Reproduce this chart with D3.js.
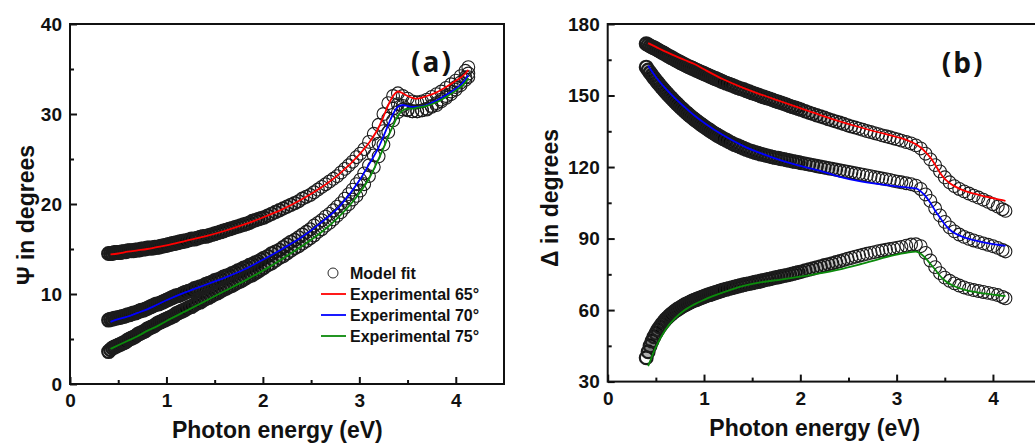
<!DOCTYPE html>
<html>
<head>
<meta charset="utf-8">
<script src="https://cdn.jsdelivr.net/npm/d3@7"></script>
<style>
  body { margin: 0; background: #fff; }
  svg { display: block; font-family: "Liberation Sans", Arial, sans-serif; font-weight: bold; }
  .axis text { font-size: 19px; fill: #111; }
  .axis line { stroke: #111; stroke-width: 2; }
  .axis .domain { display: none; }
</style>
</head>
<body>
<svg id="chart" width="1035" height="446"></svg>
<script>
// photon energy (eV) of the model-fit points, shared by every fit series
const energyFit = [
  0.40,0.42,0.44,0.46,0.48,0.50,0.52,0.54,0.56,0.58,0.60,0.62,0.64,0.66,0.68,0.70,0.72,0.74,0.76,0.78,
  0.80,0.82,0.84,0.86,0.88,0.90,0.92,0.94,0.96,0.98,1.00,1.02,1.04,1.06,1.08,1.10,1.12,1.14,1.16,1.18,1.20,
  1.23,1.26,1.29,1.32,1.35,1.38,1.41,1.44,1.47,1.50,1.53,1.56,1.59,1.62,1.65,1.68,1.71,1.74,1.77,1.80,
  1.83,1.86,1.89,1.92,1.95,1.98,2.01,
  2.05,2.09,2.13,2.17,2.21,2.25,2.29,2.33,2.37,2.41,2.45,2.49,2.53,2.57,2.61,2.65,2.69,2.73,2.77,2.81,
  2.85,2.89,2.93,2.97,3.01,
  3.05,3.10,3.15,3.20,3.25,3.30,3.35,3.40,3.45,3.50,3.55,3.60,3.65,3.70,3.75,3.80,3.85,3.90,3.95,4.00,
  4.05,4.10,4.13
];

// (a) Psi model fit
const psiFit65 = [
  14.5,14.5,14.5,14.6,14.6,14.6,14.6,14.7,14.7,14.7,14.8,14.8,14.8,14.8,14.9,14.9,14.9,15.0,15.0,15.0,
  15.1,15.1,15.1,15.1,15.2,15.2,15.2,15.3,15.3,15.4,15.4,15.5,15.5,15.6,15.6,15.7,15.7,15.8,15.8,15.9,15.9,
  16.0,16.1,16.1,16.2,16.3,16.4,16.4,16.5,16.6,16.7,16.8,16.9,17.0,17.1,17.2,17.3,17.4,17.5,17.6,17.7,
  17.8,17.9,18.1,18.2,18.3,18.4,18.5,
  18.7,18.9,19.1,19.3,19.5,19.7,19.9,20.1,20.3,20.6,20.8,21.0,21.3,21.6,21.9,22.2,22.5,22.8,23.1,23.5,
  23.9,24.3,24.7,25.2,25.6,
  26.1,26.9,27.8,28.8,30.0,31.2,32.0,32.3,32.0,31.7,31.4,31.3,31.4,31.6,31.9,32.2,32.5,32.9,33.3,33.7,
  34.2,34.8,35.2
];
const psiFit70 = [
  7.1,7.2,7.2,7.3,7.3,7.4,7.4,7.5,7.5,7.6,7.7,7.7,7.8,7.9,7.9,8.0,8.1,8.2,8.2,8.3,
  8.4,8.5,8.6,8.7,8.8,8.9,8.9,9.0,9.1,9.2,9.3,9.4,9.5,9.6,9.7,9.8,9.8,9.9,10.0,10.1,10.2,
  10.3,10.4,10.6,10.7,10.8,10.9,11.1,11.2,11.3,11.5,11.6,11.7,11.9,12.0,12.1,12.3,12.4,12.6,12.7,12.9,
  13.0,13.2,13.3,13.5,13.6,13.8,14.0,
  14.2,14.5,14.7,14.9,15.2,15.5,15.8,16.0,16.3,16.6,16.9,17.2,17.6,17.9,18.2,18.6,18.9,19.3,19.7,20.1,
  20.6,21.1,21.6,22.2,22.7,
  23.4,24.3,25.4,26.7,28.1,29.5,30.6,31.1,30.9,30.5,30.3,30.3,30.4,30.6,30.9,31.2,31.6,32.0,32.5,33.0,
  33.5,34.1,34.5
];
const psiFit75 = [
  3.6,3.8,4.0,4.1,4.2,4.3,4.4,4.5,4.6,4.7,4.9,5.0,5.1,5.2,5.3,5.5,5.6,5.7,5.8,5.9,
  6.1,6.2,6.3,6.4,6.5,6.7,6.8,6.9,7.0,7.1,7.2,7.3,7.4,7.5,7.6,7.8,7.9,8.0,8.1,8.2,8.3,
  8.5,8.6,8.8,9.0,9.1,9.3,9.5,9.6,9.8,10.0,10.1,10.3,10.5,10.6,10.8,10.9,11.1,11.3,11.4,11.6,
  11.8,12.0,12.1,12.3,12.5,12.7,12.9,
  13.2,13.4,13.7,14.0,14.2,14.5,14.8,15.1,15.3,15.6,15.9,16.2,16.5,16.9,17.2,17.6,17.9,18.3,18.7,19.1,
  19.6,20.0,20.5,20.9,21.5,
  22.2,23.1,24.1,25.3,26.6,28.0,29.3,30.2,30.5,30.4,30.3,30.3,30.4,30.5,30.8,31.0,31.4,31.8,32.2,32.7,
  33.2,33.8,34.1
];

// (b) Delta model fit
const deltaFit65 = [
  171.7,171.3,170.8,170.4,170.0,169.6,169.1,168.7,168.2,167.8,167.3,166.8,166.4,165.9,165.5,165.0,164.6,164.2,163.7,163.3,
  162.9,162.5,162.1,161.8,161.4,161.0,160.6,160.3,159.9,159.6,159.2,158.8,158.5,158.1,157.8,157.4,157.1,156.7,156.4,156.0,155.7,
  155.2,154.7,154.3,153.8,153.3,152.9,152.5,152.0,151.6,151.1,150.7,150.3,149.8,149.4,149.0,148.6,148.2,147.7,147.3,146.9,
  146.5,146.1,145.6,145.2,144.8,144.4,144.0,
  143.4,142.8,142.3,141.7,141.2,140.7,140.1,139.6,139.1,138.6,138.1,137.5,137.0,136.6,136.1,135.6,135.1,134.7,134.2,133.8,
  133.3,132.9,132.5,132.0,131.6,
  131.1,130.5,129.9,129.1,127.8,125.6,123.2,120.8,118.2,115.7,113.6,112.0,110.8,109.8,108.9,108.0,107.2,106.3,105.4,104.4,
  103.4,102.3,101.6
];
const deltaFit70 = [
  161.9,160.7,159.6,158.5,157.4,156.4,155.4,154.4,153.4,152.5,151.6,150.7,149.8,149.0,148.1,147.3,146.5,145.7,144.9,144.2,
  143.4,142.7,142.0,141.3,140.7,140.0,139.4,138.8,138.2,137.6,137.0,136.5,135.9,135.4,134.8,134.3,133.8,133.3,132.8,132.4,131.9,
  131.3,130.6,130.0,129.4,128.9,128.4,127.9,127.4,126.9,126.5,126.1,125.8,125.4,125.1,124.8,124.5,124.2,123.9,123.7,123.4,
  123.2,122.9,122.7,122.4,122.2,122.0,121.7,
  121.4,121.1,120.8,120.4,120.1,119.8,119.5,119.2,118.9,118.6,118.3,118.0,117.7,117.4,117.1,116.8,116.5,116.2,115.8,115.5,
  115.2,114.9,114.6,114.2,113.9,
  113.6,113.2,112.8,112.2,110.8,108.5,105.8,102.7,99.7,97.0,94.7,93.0,91.7,90.7,89.9,89.2,88.6,88.0,87.4,86.8,
  86.1,85.2,84.6
];
const deltaFit75 = [
  40.0,42.5,45.0,47.0,48.8,50.3,51.7,52.9,54.0,55.0,56.0,56.8,57.6,58.3,59.0,59.6,60.2,60.7,61.2,61.7,
  62.2,62.6,63.0,63.4,63.8,64.1,64.4,64.8,65.1,65.4,65.7,66.0,66.3,66.5,66.8,67.1,67.4,67.6,67.9,68.1,68.4,
  68.7,69.1,69.4,69.7,70.0,70.3,70.6,70.9,71.1,71.4,71.7,71.9,72.2,72.5,72.8,73.0,73.3,73.6,73.8,74.1,
  74.4,74.6,74.9,75.2,75.5,75.8,76.1,
  76.6,77.0,77.4,77.9,78.3,78.8,79.2,79.6,80.1,80.5,81.0,81.5,81.9,82.4,82.8,83.2,83.6,84.0,84.3,84.7,
  85.0,85.3,85.6,85.9,86.2,
  86.5,87.0,87.5,87.6,86.8,84.0,80.8,78.0,75.5,73.6,72.3,71.2,70.3,69.5,68.9,68.4,68.0,67.6,67.2,66.8,
  66.3,65.5,64.9
];

// experimental curves
const energyExp = [0.42,0.5,0.6,0.7,0.8,0.9,1.0,1.2,1.4,1.6,1.8,2.0,2.2,2.4,2.6,2.8,3.0,3.1,3.2,3.25,
  3.3,3.35,3.4,3.45,3.5,3.55,3.6,3.7,3.8,3.9,4.0,4.1,4.13];
const psiExp65 = [14.4,14.5,14.7,14.85,15.0,15.2,15.4,15.9,16.4,17.0,17.7,18.5,19.4,20.5,21.8,23.4,25.5,26.8,28.5,29.7,
  31.0,32.0,32.5,32.3,32.0,31.8,31.7,32.0,32.4,33.0,33.7,34.5,34.9];
const psiExp70 = [6.9,7.2,7.5,7.9,8.3,8.8,9.3,10.2,11.0,11.8,12.7,13.8,15.0,16.3,17.9,19.8,22.6,24.4,26.3,27.5,
  28.8,30.0,30.8,31.0,30.9,30.8,30.8,31.0,31.5,32.1,32.8,33.8,34.3];
const psiExp75 = [3.9,4.3,4.8,5.3,5.9,6.4,7.0,8.1,9.2,10.3,11.4,12.6,13.9,15.3,16.8,18.7,21.2,22.8,25.0,26.2,
  27.5,28.7,29.8,30.4,30.6,30.6,30.7,30.9,31.3,31.9,32.6,33.5,34.0];
const deltaExp65 = [172.0,170.4,168.4,166.6,164.9,163.2,161.0,156.8,153.3,150.3,147.5,144.7,141.9,139.3,136.9,134.7,132.6,131.4,129.6,128.2,
  126.3,124.0,121.0,117.6,115.0,113.3,112.0,110.1,108.9,107.8,107.0,106.1,105.8];
const deltaExp70 = [162.5,157.8,153.0,148.8,145.1,141.6,138.6,133.3,129.0,125.6,122.8,120.5,118.5,116.0,114.2,112.9,111.9,111.5,111.0,109.8,
  107.8,105.0,101.7,98.8,96.0,93.8,92.3,90.5,89.3,88.4,87.7,87.1,86.9];
const deltaExp75 = [36.5,44.5,51.8,56.6,60.0,62.4,64.3,67.4,70.0,71.7,72.8,74.0,75.4,77.0,79.0,81.2,83.3,84.0,84.5,83.6,
  81.8,79.4,77.0,74.4,72.4,71.0,70.0,68.6,67.7,67.0,66.5,66.0,65.9];

const xTicks = [0,1,2,3,4];
const xMinorTicks = [0.5,1.5,2.5,3.5];
const psiTicks = [0,10,20,30,40];
const psiMinorTicks = [5,15,25,35];
const deltaTicks = [30,60,90,120,150,180];
const deltaMinorTicks = [45,75,105,135,165];

const legendLabels = ["Model fit","Experimental 65°","Experimental 70°","Experimental 75°"];
const lineColors = ["#ff0000","#0000ff","#0b8a0b"];

const svg = d3.select("#chart");
svg.append("rect").attr("width",1035).attr("height",446).attr("fill","#fff");

// the fit points sit very close together at low energy and merge into a dark band
const ringWidth = d3.scaleLinear().domain([1.2,2.0,2.7]).range([2.2,1.8,1.1]).clamp(true);
const ringFill = d3.scaleLinear().domain([1.2,2.0,2.6]).range([0.3,0.2,0]).clamp(true);

function drawPanel(cfg) {
    const g = svg.append("g")
        .attr("transform","translate("+cfg.left+","+cfg.top+")");

    const x = d3.scaleLinear().domain([0,4.5]).range([0,cfg.width]);
    const y = d3.scaleLinear().domain(cfg.yDomain).range([cfg.height,0]);

    cfg.fits.forEach(vals => {
        g.append("g").selectAll("circle")
            .data(energyFit.map((e,i) => [e,vals[i],i]))
            .join("circle")
            .attr("cx",d => x(d[0]))
            .attr("cy",d => y(d[1]))
            .attr("r",6.4)
            .attr("fill","#000")
            .attr("fill-opacity",d => d[2] === 0 ? 0 : ringFill(d[0]))
            .attr("stroke","#1c1c1c")
            .attr("stroke-width",d => ringWidth(d[0]));
    });

    const line = d3.line()
        .x(d => x(d[0]))
        .y(d => y(d[1]))
        .curve(d3.curveMonotoneX);

    cfg.exps.forEach((vals,k) => {
        g.append("path")
            .datum(energyExp.map((e,i) => [e,vals[i]]))
            .attr("d",line)
            .attr("fill","none")
            .attr("stroke",lineColors[k])
            .attr("stroke-width",1.8);
    });

    const xAxis = d3.axisBottom(x).tickValues(xTicks).tickSize(-7).tickPadding(10).tickFormat(d3.format("d"));
    const xMinor = d3.axisBottom(x).tickValues(xMinorTicks).tickSize(-4).tickFormat("");
    const yAxis = d3.axisLeft(y).tickValues(cfg.yTicks).tickSize(-7).tickPadding(8).tickFormat(d3.format("d"));
    const yMinor = d3.axisLeft(y).tickValues(cfg.yMinor).tickSize(-4).tickFormat("");

    g.append("g").attr("class","axis").attr("transform","translate(0,"+cfg.height+")").call(xAxis);
    g.append("g").attr("class","axis").attr("transform","translate(0,"+cfg.height+")").call(xMinor);
    g.append("g").attr("class","axis").call(yAxis);
    g.append("g").attr("class","axis").call(yMinor);

    g.append("rect")
        .attr("width",cfg.width)
        .attr("height",cfg.height)
        .attr("fill","none")
        .attr("stroke","#111")
        .attr("stroke-width",2);

    g.append("text")
        .attr("x",x(2.15))
        .attr("y",cfg.height+54)
        .attr("text-anchor","middle")
        .attr("font-size",23)
        .attr("fill","#111")
        .text("Photon energy (eV)");

    g.append("text")
        .attr("transform","translate("+cfg.titleX+","+(cfg.titleY-cfg.top)+") rotate(-90)")
        .attr("text-anchor","middle")
        .attr("font-size",23)
        .attr("fill","#111")
        .text(cfg.title);

    g.append("text")
        .attr("x",cfg.tagX)
        .attr("y",cfg.tagY)
        .attr("font-family","'Open Sans', sans-serif")
        .attr("font-weight",700)
        .attr("font-size",28)
        .attr("letter-spacing",2)
        .attr("fill","#111")
        .text(cfg.tag);

    return g;
}

const ga = drawPanel({
    left:70, top:24, width:434, height:360,
    yDomain:[0,40], yTicks:psiTicks, yMinor:psiMinorTicks,
    fits:[psiFit65,psiFit70,psiFit75],
    exps:[psiExp65,psiExp70,psiExp75],
    title:"\u03A8 in degrees", titleX:-36, titleY:215,
    tag:"(a)", tagX:341, tagY:48
});

drawPanel({
    left:607.7, top:24, width:433.4, height:357.6,
    yDomain:[30,180], yTicks:deltaTicks, yMinor:deltaMinorTicks,
    fits:[deltaFit65,deltaFit70,deltaFit75],
    exps:[deltaExp65,deltaExp70,deltaExp75],
    title:"\u0394 in degrees", titleX:-50, titleY:198,
    tag:"(b)", tagX:334, tagY:49
});

// legend in panel (a)
const legend = ga.append("g").attr("transform","translate(251,249)");
const rowGap = 21;
legend.append("circle")
    .attr("cx",12).attr("cy",0).attr("r",5)
    .attr("fill","none").attr("stroke","#2a2a2a").attr("stroke-width",1);
lineColors.forEach((c,i) => {
    legend.append("line")
        .attr("x1",0).attr("x2",25)
        .attr("y1",rowGap*(i+1)).attr("y2",rowGap*(i+1))
        .attr("stroke",c).attr("stroke-width",1.8);
});
legendLabels.forEach((t,i) => {
    legend.append("text")
        .attr("x",29)
        .attr("y",rowGap*i+5.5)
        .attr("font-size",16)
        .attr("fill","#111")
        .text(t);
});
</script>
</body>
</html>
